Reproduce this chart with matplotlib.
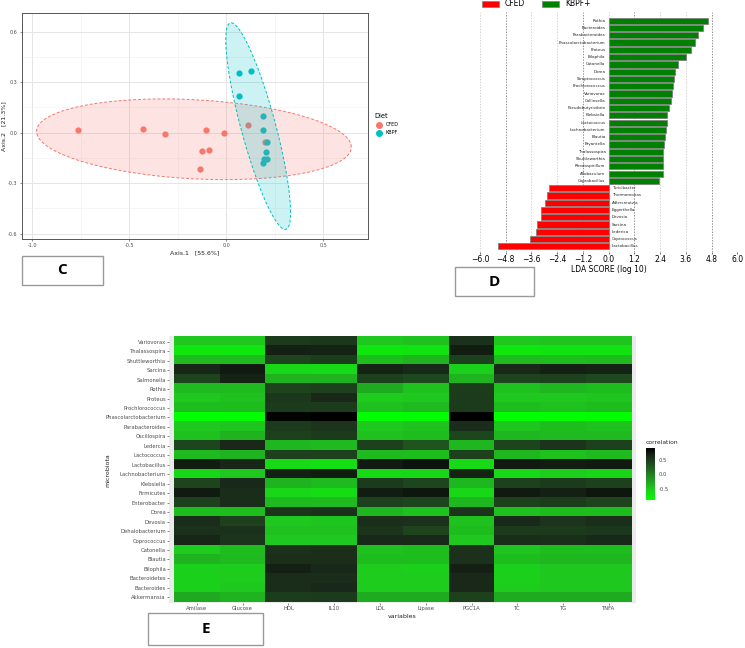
import numpy as np
import matplotlib.pyplot as plt
from matplotlib.colors import LinearSegmentedColormap, Normalize
from matplotlib.patches import Rectangle, Patch
from matplotlib.lines import Line2D

# %% data
# C: PCoA coordinates per diet
cfed_x = [-0.766, -0.428, -0.316, -0.103, -0.011, 0.110, -0.127, -0.089, -0.136, 0.198]
cfed_y = [0.018, 0.020, -0.008, 0.016, 0.000, 0.046, -0.111, -0.101, -0.218, -0.055]
kbpf_x = [0.064, 0.129, 0.065, 0.189, 0.189, 0.208, 0.206, 0.196, 0.208, 0.188]
kbpf_y = [0.353, 0.367, 0.218, 0.099, 0.016, -0.057, -0.117, -0.154, -0.158, -0.178]

# D: LEfSe LDA scores (top to bottom)
lda_names = ["Rothia", "Bacteroides", "Parabacteroides", "Phascolarctobacterium", "Proteus",
             "Bilophila", "Catonella", "Dorea", "Streptococcus", "Prochlorococcus",
             "Variovorax", "Collinsella", "Pseudobutyrivibrio", "Klebsiella", "Lactococcus",
             "Lachnobacterium", "Blautia", "Bryantella", "Thalassospira", "Shuttleworthia",
             "Rhodospirillum", "Allobaculum", "Coprobacillus",
             "Turicibacter", "Thermomonas", "Adlercreutzia", "Eggerthella", "Devosia",
             "Sarcina", "Lederica", "Coprococcus", "Lactobacillus"]
lda_scores = [4.62, 4.42, 4.18, 4.03, 3.84, 3.59, 3.22, 3.10, 3.06, 2.99, 2.95, 2.92,
              2.82, 2.72, 2.71, 2.69, 2.63, 2.60, 2.55, 2.55, 2.52, 2.52, 2.33,
              -2.79, -2.87, -2.97, -3.15, -3.17, -3.36, -3.38, -3.67, -5.15]

# E: correlation heatmap
variables = ["Amilase", "Glucose", "HDL", "IL10", "LDL", "Lipase", "PGC1A", "TC", "TG", "TNFA"]
microbiota = ["Variovorax", "Thalassospira", "Shuttleworthia", "Sarcina", "Salmonella", "Rothia",
              "Proteus", "Prochlorococcus", "Phascolarctobacterium", "Parabacteroides",
              "Oscillospira", "Ledercia", "Lactococcus", "Lactobacillus", "Lachnobacterium",
              "Klebsiella", "Firmicutes", "Enterobacter", "Dorea", "Devosia", "Dehalobacterium",
              "Coprococcus", "Catonella", "Blautia", "Bilophila", "Bacteroidetes", "Bacteroides",
              "Akkermansia"]
corr = [
    [-0.50, -0.50, 0.50, 0.52, -0.50, -0.45, 0.58, -0.50, -0.48, -0.48],
    [-0.70, -0.70, 0.70, 0.68, -0.70, -0.68, 0.72, -0.70, -0.68, -0.68],
    [-0.40, -0.40, 0.42, 0.48, -0.42, -0.35, 0.45, -0.40, -0.42, -0.40],
    [0.66, 0.74, -0.60, -0.62, 0.68, 0.64, -0.55, 0.65, 0.70, 0.68],
    [0.42, 0.68, -0.35, -0.36, 0.45, 0.38, -0.35, 0.42, 0.45, 0.38],
    [-0.40, -0.40, 0.42, 0.45, -0.30, -0.45, 0.48, -0.45, -0.38, -0.42],
    [-0.50, -0.45, 0.52, 0.65, -0.52, -0.50, 0.50, -0.50, -0.50, -0.48],
    [-0.42, -0.42, 0.50, 0.50, -0.45, -0.40, 0.50, -0.42, -0.45, -0.42],
    [-0.88, -0.86, 0.88, 0.91, -0.88, -0.86, 0.91, -0.88, -0.88, -0.87],
    [-0.50, -0.48, 0.50, 0.55, -0.50, -0.45, 0.62, -0.48, -0.42, -0.45],
    [-0.45, -0.35, 0.45, 0.50, -0.45, -0.42, 0.40, -0.38, -0.40, -0.40],
    [0.40, 0.65, -0.38, -0.40, 0.45, 0.30, -0.38, 0.42, 0.55, 0.45],
    [-0.40, -0.35, 0.45, 0.45, -0.40, -0.42, 0.45, -0.38, -0.45, -0.40],
    [0.72, 0.66, -0.62, -0.66, 0.74, 0.78, -0.62, 0.74, 0.72, 0.74],
    [-0.60, -0.50, 0.70, 0.72, -0.62, -0.60, 0.68, -0.62, -0.55, -0.58],
    [0.42, 0.64, -0.35, -0.40, 0.50, 0.40, -0.38, 0.45, 0.50, 0.45],
    [0.74, 0.62, -0.60, -0.64, 0.72, 0.76, -0.60, 0.74, 0.70, 0.76],
    [0.45, 0.62, -0.40, -0.40, 0.45, 0.40, -0.38, 0.45, 0.48, 0.42],
    [-0.42, -0.42, 0.55, 0.58, -0.38, -0.45, 0.55, -0.45, -0.42, -0.42],
    [0.62, 0.45, -0.50, -0.48, 0.60, 0.58, -0.45, 0.64, 0.55, 0.60],
    [0.58, 0.58, -0.45, -0.45, 0.55, 0.42, -0.42, 0.50, 0.50, 0.52],
    [0.66, 0.55, -0.50, -0.50, 0.64, 0.64, -0.50, 0.62, 0.60, 0.64],
    [-0.52, -0.42, 0.58, 0.60, -0.45, -0.42, 0.58, -0.48, -0.42, -0.42],
    [-0.35, -0.40, 0.60, 0.60, -0.42, -0.42, 0.58, -0.42, -0.38, -0.38],
    [-0.55, -0.52, 0.70, 0.64, -0.52, -0.55, 0.70, -0.55, -0.50, -0.50],
    [-0.55, -0.52, 0.62, 0.62, -0.52, -0.52, 0.65, -0.55, -0.50, -0.50],
    [-0.55, -0.50, 0.62, 0.64, -0.52, -0.52, 0.65, -0.52, -0.50, -0.50],
    [-0.28, -0.35, 0.48, 0.50, -0.30, -0.30, 0.45, -0.30, -0.30, -0.30],
]


def norm_ellipse(x, y, level=0.95, segments=101):
    # like ggplot stat_ellipse(type="norm")
    pts = np.column_stack([x, y])
    n = len(pts)
    loc = pts.mean(axis=0)
    cov = np.cov(pts.T)
    dfd = n - 1
    fq = dfd / 2 * ((1 - level) ** (-2 / dfd) - 1)   # qf(level, 2, dfd)
    radius = np.sqrt(2 * fq)
    ang = np.linspace(0, 2 * np.pi, segments)
    circle = np.column_stack([np.cos(ang), np.sin(ang)])
    return loc + radius * circle @ np.linalg.cholesky(cov).T


W, H = 745, 648
fig = plt.figure(figsize=(7.45, 6.48), dpi=100)


def fx(px):
    return px / W


def fy(py):
    return 1 - py / H


def label_box(x0, y0, x1, y1, letter):
    fig.patches.append(Rectangle((fx(x0), fy(y1)), fx(x1 - x0), (y1 - y0) / H,
                                 transform=fig.transFigure, facecolor='white',
                                 edgecolor='#9a9a9a', lw=1.0))
    fig.text(fx((x0 + x1) / 2), fy((y0 + y1) / 2), letter, ha='center', va='center',
             fontsize=11, fontweight='bold', family='Open Sans')


# %% C: PCoA
grey_txt = '#4D4D4D'
ax1 = fig.add_axes([fx(21.7), fy(239), fx(346), 226.3 / H])
ax1.set_xlim(-1.055, 0.729)
ax1.set_ylim(-0.632, 0.713)
ax1.set_xticks([-1.0, -0.5, 0.0, 0.5])
ax1.set_xticklabels(["-1.0", "-0.5", "0.0", "0.5"])
ax1.set_yticks([-0.6, -0.3, 0.0, 0.3, 0.6])
ax1.set_yticklabels(["-0.6", "-0.3", "0.0", "0.3", "0.6"])
ax1.set_xticks([-0.75, -0.25, 0.25], minor=True)
ax1.set_yticks([-0.45, -0.15, 0.15, 0.45], minor=True)
ax1.tick_params(which='both', length=1.5, width=0.4, labelsize=3.5, labelcolor=grey_txt,
                color='#333333', pad=1.5)
ax1.tick_params(which='minor', length=0)
ax1.grid(which='major', color='#E5E5E5', lw=0.7)
ax1.grid(which='minor', color='#F0F0F0', lw=0.4)
ax1.set_axisbelow(True)
for s in ax1.spines.values():
    s.set_color('#555555')
    s.set_linewidth(0.7)
ax1.set_xlabel("Axis.1   [55.6%]", fontsize=4.5, color='#222222', labelpad=1.5)
ax1.set_ylabel("Axis.2   [21.3%]", fontsize=4.5, color='#222222', labelpad=1.5)

for xs, ys, col in [(cfed_x, cfed_y, '#F8766D'), (kbpf_x, kbpf_y, '#00BFC4')]:
    ax1.scatter(xs, ys, s=20, color=col, lw=0, zorder=2)
for xs, ys, col in [(cfed_x, cfed_y, '#F8766D'), (kbpf_x, kbpf_y, '#00BFC4')]:
    el = norm_ellipse(xs, ys)
    ax1.fill(el[:, 0], el[:, 1], color=col, alpha=0.2, lw=0, zorder=3)
    ax1.plot(el[:, 0], el[:, 1], color=col, lw=0.7, ls=(0, (3, 2)), zorder=3)

handles = [Line2D([], [], marker='o', ls='', color='#F8766D', markersize=4),
           Line2D([], [], marker='o', ls='', color='#00BFC4', markersize=4)]
leg = fig.legend(handles, ["CFED", "KBPF"], title="Diet", loc='upper left',
                 bbox_to_anchor=(fx(372), fy(111)), frameon=False, fontsize=3.5,
                 title_fontsize=4.8, handletextpad=0.3, labelspacing=0.6, borderpad=0)
leg._legend_box.align = "left"
label_box(21.7, 255.7, 103, 284.7, "C")

# %% D: LEfSe
ax2 = fig.add_axes([fx(480), fy(251.5), fx(257.3), 239.5 / H])
pos = np.arange(len(lda_scores))
bar_cols = ['#008000' if v > 0 else '#FF0000' for v in lda_scores]
ax2.barh(pos, lda_scores, height=0.85, color=bar_cols, edgecolor='#808080', lw=0.6, zorder=2)
for i, (nm, v) in enumerate(zip(lda_names, lda_scores)):
    if v > 0:
        ax2.text(-0.15, i, nm, ha='right', va='center', fontsize=2.9, color='#222222')
    else:
        ax2.text(0.15, i, nm, ha='left', va='center', fontsize=2.9, color='#222222')
ticks = np.round(np.arange(-6.0, 6.01, 1.2), 1)
for t in ticks:
    dark = abs(abs(t) - 4.8) < 0.01 or abs(abs(t) - 1.2) < 0.01
    ax2.axvline(t, color='#666666' if dark else '#c0c0c0', lw=0.5, ls=(0, (2, 2)), zorder=1)
ax2.set_xlim(-6, 6)
ax2.set_ylim(31.7, -1.2)
ax2.set_xticks(ticks)
ax2.set_xticklabels([("\u2212%.1f" % -t) if t < 0 else "%.1f" % t for t in ticks])
ax2.set_yticks([])
ax2.tick_params(axis='x', labelsize=5.5, length=1.5, width=0.4, pad=1)
for s in ax2.spines.values():
    s.set_visible(False)
ax2.set_xlabel("LDA SCORE (log 10)", fontsize=5.5, labelpad=1)
fig.legend([Patch(facecolor='#FF0000', edgecolor='#808080', lw=0.5),
            Patch(facecolor='#008000', edgecolor='#808080', lw=0.5)],
           ["CFED", "KBPF+"], ncol=2, loc='center left', bbox_to_anchor=(fx(482), fy(4)),
           frameon=False, fontsize=5.5, handlelength=2.2, handleheight=0.8,
           handletextpad=0.8, columnspacing=2.2, borderpad=0, borderaxespad=0)
label_box(455, 267.3, 534, 295.7, "D")

# %% E: heatmap
cmap = LinearSegmentedColormap.from_list(
    "gk", [(0.0, '#00FF00'), (0.2, '#1ECC1E'), (0.45, '#228A22'),
           (0.7, '#1F4A1F'), (0.85, '#1A2A1A'), (1.0, '#000000')])
vals = np.array(corr)
norm = Normalize(vmin=vals.min(), vmax=vals.max())
ax3 = fig.add_axes([fx(169.4), fy(603), fx(467), 266.9 / H])
ax3.set_facecolor('#EBEBEB')
im = ax3.imshow(vals, cmap=cmap, norm=norm, aspect='auto', interpolation='nearest')
ax3.set_xlim(-0.6, len(variables) - 0.4)
ax3.set_ylim(len(microbiota) - 0.4, -0.6)
ax3.set_xticks(range(len(variables)))
ax3.set_xticklabels(variables)
ax3.set_yticks(range(len(microbiota)))
ax3.set_yticklabels(microbiota)
ax3.tick_params(labelsize=3.8, labelcolor=grey_txt, length=1.5, width=0.4, color='#333333', pad=1)
for s in ax3.spines.values():
    s.set_visible(False)
fig.text(fx(402), fy(617), "variables", ha='center', va='center', fontsize=4.5, color='#222222')
fig.text(fx(108), fy(470), "microbiota", ha='center', va='center', rotation=90,
         fontsize=4.5, color='#222222')

cax = fig.add_axes([fx(646), fy(500), fx(9), 52 / H])
cb = fig.colorbar(im, cax=cax, ticks=[-0.5, 0.0, 0.5])
cb.ax.set_yticklabels(["-0.5", "0.0", "0.5"])
cb.outline.set_visible(False)
cb.ax.tick_params(labelsize=3.8, labelcolor=grey_txt, length=1.5, width=0.4, color='white', pad=1)
fig.text(fx(646), fy(442), "correlation", ha='left', va='center', fontsize=4.3, color='#222222')
label_box(148, 613, 263, 645, "E")

fig.savefig("out.png", dpi=100)
